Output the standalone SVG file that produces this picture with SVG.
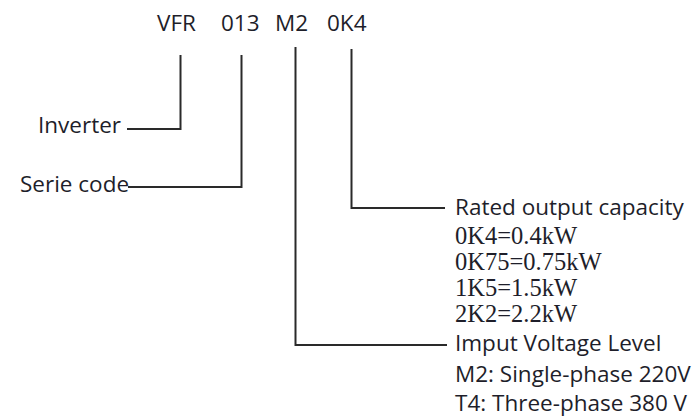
<svg xmlns="http://www.w3.org/2000/svg" width="699" height="417" viewBox="0 0 699 417">
<style>
.s{font-family:"Open Sans","Liberation Sans",sans-serif;font-size:22.5px;fill:#1e1e2a}
.r{font-family:"Liberation Serif","Times New Roman",serif;font-size:24.5px;fill:#1e1e2a}
.c{fill:none;stroke:#2a2a2a;stroke-width:2}
</style>
<rect width="699" height="417" fill="#fff"/>
<g id="code">
<text class="s" x="157" y="31">VFR</text>
<text class="s" x="221" y="31">013</text>
<text class="s" x="275" y="31">M2</text>
<text class="s" x="327" y="31">0K4</text>
</g>
<g id="inverter"><text class="s" x="38" y="133">Inverter</text></g>
<g id="serie"><text class="s" x="20" y="192">Serie code</text></g>
<g id="capacity">
<text class="s" x="455" y="215">Rated output capacity</text>
<text class="r" x="455" y="244">0K4=0.4kW</text>
<text class="r" x="455" y="270">0K75=0.75kW</text>
<text class="r" x="455" y="296">1K5=1.5kW</text>
<text class="r" x="455" y="322">2K2=2.2kW</text>
</g>
<g id="voltage">
<text class="s" x="455" y="351">Imput Voltage Level</text>
<text class="s" x="455" y="382">M2: Single-phase 220V</text>
<text class="s" x="455" y="411">T4: Three-phase 380 V</text>
</g>
<g id="connectors">
<polyline class="c" points="180.5,55 180.5,129 127,129"/>
<polyline class="c" points="241.5,55 241.5,187 128,187"/>
<polyline class="c" points="295.5,47 295.5,345 447,345"/>
<polyline class="c" points="351.5,49 351.5,208 445,208"/>
</g>
</svg>
